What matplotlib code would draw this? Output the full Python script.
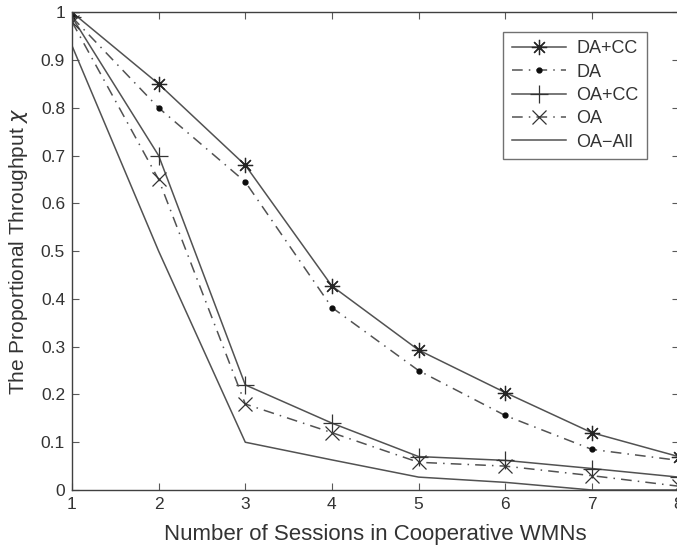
import numpy as np
import matplotlib.pyplot as plt

# sessions on the x axis
sessions = [1, 2, 3, 4, 5, 6, 7, 8]

# proportional throughput per scheme
da_cc = [1.0, 0.85, 0.68, 0.427, 0.293, 0.204, 0.12, 0.07]
da = [0.99, 0.80, 0.645, 0.382, 0.25, 0.156, 0.085, 0.062]
oa_cc = [0.99, 0.70, 0.22, 0.14, 0.07, 0.062, 0.045, 0.027]
oa = [0.98, 0.65, 0.18, 0.12, 0.058, 0.05, 0.03, 0.008]
oa_all = [0.93, 0.50, 0.10, 0.063, 0.027, 0.016, 0.0, 0.0]

labels = ['DA+CC', 'DA', 'OA+CC', 'OA', 'OA\u2212All']
yticks = [0, 0.1, 0.2, 0.3, 0.4, 0.5, 0.6, 0.7, 0.8, 0.9, 1]
ytick_labels = ['0', '0.1', '0.2', '0.3', '0.4', '0.5', '0.6', '0.7', '0.8', '0.9', '1']

plt.rcParams['font.family'] = ['Liberation Sans', 'DejaVu Sans']
line_col = '0.32'
text_col = '0.2'
dashdot = (0, (7, 4, 1, 4))

fig = plt.figure(figsize=(6.77, 5.52), dpi=100)
ax = fig.add_axes([72 / 677, 1 - 490 / 552, 606.5 / 677, 477.7 / 552])

# asterisk marker like MATLAB '*'
star = (8, 2, 0)
ax.plot(sessions, da_cc, '-', color=line_col, lw=1.1, marker=star, ms=11,
        mec='0.15', mew=0.9, label=labels[0])
ax.plot(sessions, da, linestyle=dashdot, color=line_col, lw=1.1, marker='.',
        ms=7, mec='0.05', mfc='0.05', label=labels[1])
ax.plot(sessions, oa_cc, '-', color=line_col, lw=1.1, marker='+', ms=13,
        mec='0.2', mew=0.9, label=labels[2])
ax.plot(sessions, oa, linestyle=dashdot, color=line_col, lw=1.1, marker='x',
        ms=10, mec='0.2', mew=0.9, label=labels[3])
ax.plot(sessions, oa_all, '-', color=line_col, lw=1.1, label=labels[4])

ax.set_xlim(1, 8)
ax.set_ylim(0, 1)
ax.set_xticks(sessions)
ax.set_yticks(yticks)
ax.set_yticklabels(ytick_labels)
ax.tick_params(direction='in', top=True, right=True, length=5, width=0.8,
               labelsize=12.5, colors='0.35', labelcolor=text_col, pad=5)
for s in ax.spines.values():
    s.set_color('0.25')
    s.set_linewidth(1.0)

ax.set_xlabel('Number of Sessions in Cooperative WMNs', fontsize=16,
              color=text_col, labelpad=9)
ax.set_ylabel('The Proportional Throughput $\\chi$', fontsize=15,
              color=text_col, labelpad=8)

leg = ax.legend(loc='upper right', bbox_to_anchor=(0.948, 0.958), fontsize=13,
                frameon=True, fancybox=False, edgecolor='0.3', handlelength=3.0,
                labelspacing=0.35, borderpad=0.45, handletextpad=0.6,
                borderaxespad=0)
leg.get_frame().set_linewidth(1.0)
for t in leg.get_texts():
    t.set_color(text_col)

fig.savefig('out.png', dpi=100)
